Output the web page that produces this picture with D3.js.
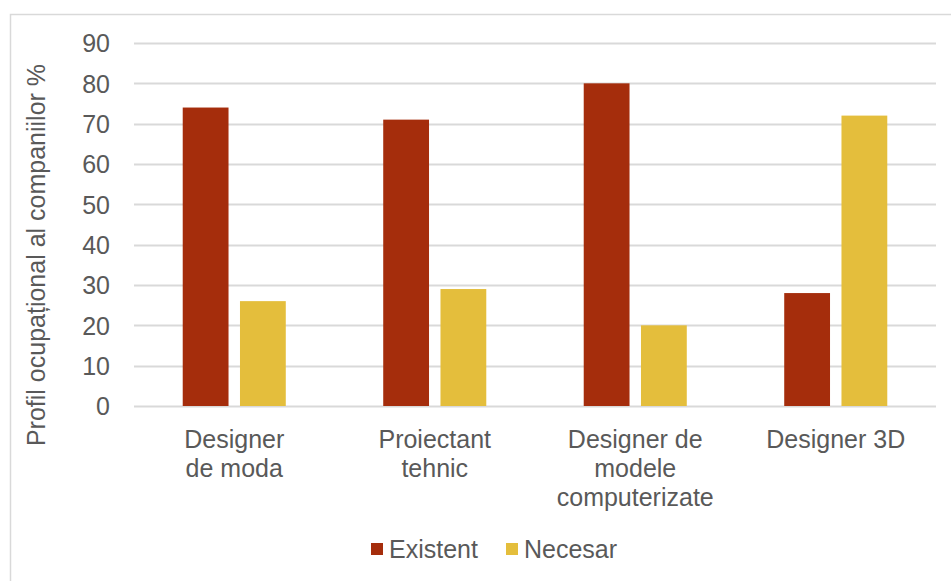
<!DOCTYPE html>
<html><head><meta charset="utf-8">
<script src="https://cdn.jsdelivr.net/npm/d3@7"></script>
<style>body{margin:0;background:#fff}svg{display:block}text{font-family:"Liberation Sans",Arial,sans-serif;fill:#595959}</style>
</head><body>
<svg id="c" width="951" height="581"></svg>
<script>
const categories = [["Designer","de moda"],["Proiectant","tehnic"],["Designer de","modele","computerizate"],["Designer 3D"]];
const seriesNames = ["Existent","Necesar"];
const existent = [74, 71, 80, 28];
const necesar = [26, 29, 20, 72];
const yTicks = [0,10,20,30,40,50,60,70,80,90];
const colors = ["#A52D0C","#E4BE3C"];
const yTitle = "Profil ocupațional al companiilor %";

(function(){
const svg = d3.select("#c");
svg.append("rect").attr("x",10.5).attr("y",14.5).attr("width",1000).attr("height",700)
  .attr("fill","#fff").attr("stroke","#D9D9D9").attr("stroke-width",1.5);

const pLeft = 134, pRight = 936, pTop = 43, pBottom = 406;
const catKeys = categories.map((c,i)=>i);
const x0 = d3.scaleBand().domain(catKeys).range([pLeft,pRight]).paddingInner(0.486).paddingOuter(0.243);
const x1 = d3.scaleBand().domain(seriesNames).range([0,x0.bandwidth()]).paddingInner(0.2);
const y = d3.scaleLinear().domain([0,90]).range([pBottom,pTop]);

svg.append("g").selectAll("line").data(yTicks).join("line")
  .attr("x1",pLeft).attr("x2",pRight).attr("y1",d=>Math.round(y(d))+0.5).attr("y2",d=>Math.round(y(d))+0.5)
  .attr("stroke","#D9D9D9").attr("stroke-width",2);

const yAxis = d3.axisLeft(y).tickValues(yTicks).tickSize(0).tickPadding(0);
const ga = svg.append("g").attr("transform","translate(110,0)").call(yAxis);
ga.select(".domain").remove();
ga.selectAll("text").attr("font-size",25).attr("font-family","Liberation Sans, Arial, sans-serif").attr("fill","#595959").attr("dy","0.35em");

const data = catKeys.map(i=>({i, vals:[existent[i], necesar[i]]}));
const g = svg.append("g").selectAll("g").data(data).join("g").attr("transform",d=>`translate(${x0(d.i)},0)`);
g.selectAll("rect").data(d=>d.vals.map((v,k)=>({k,v}))).join("rect")
  .attr("x",d=>x1(seriesNames[d.k])).attr("width",x1.bandwidth())
  .attr("y",d=>y(d.v)).attr("height",d=>y(0)-y(d.v))
  .attr("fill",d=>colors[d.k]);

const cl = svg.append("g").selectAll("text").data(catKeys).join("text")
  .attr("x",i=>x0(i)+x0.bandwidth()/2).attr("y",448).attr("text-anchor","middle").attr("font-size",25);
cl.selectAll("tspan").data(i=>categories[i]).join("tspan")
  .attr("x",function(){return this.parentNode.getAttribute("x");})
  .attr("dy",(d,j)=>j===0?0:29).text(d=>d);

svg.append("text").attr("transform","translate(45,255) rotate(-90)").attr("text-anchor","middle")
  .attr("font-size",25).text(yTitle);

const lx = [371, 506];
const lg = svg.append("g").selectAll("g").data(seriesNames).join("g").attr("transform",(d,i)=>`translate(${lx[i]},0)`);
lg.append("rect").attr("x",0).attr("y",543).attr("width",12).attr("height",12).attr("fill",(d,i)=>colors[i]);
lg.append("text").attr("x",18).attr("y",558).attr("font-size",25).text(d=>d);
})();
</script>
</body></html>
